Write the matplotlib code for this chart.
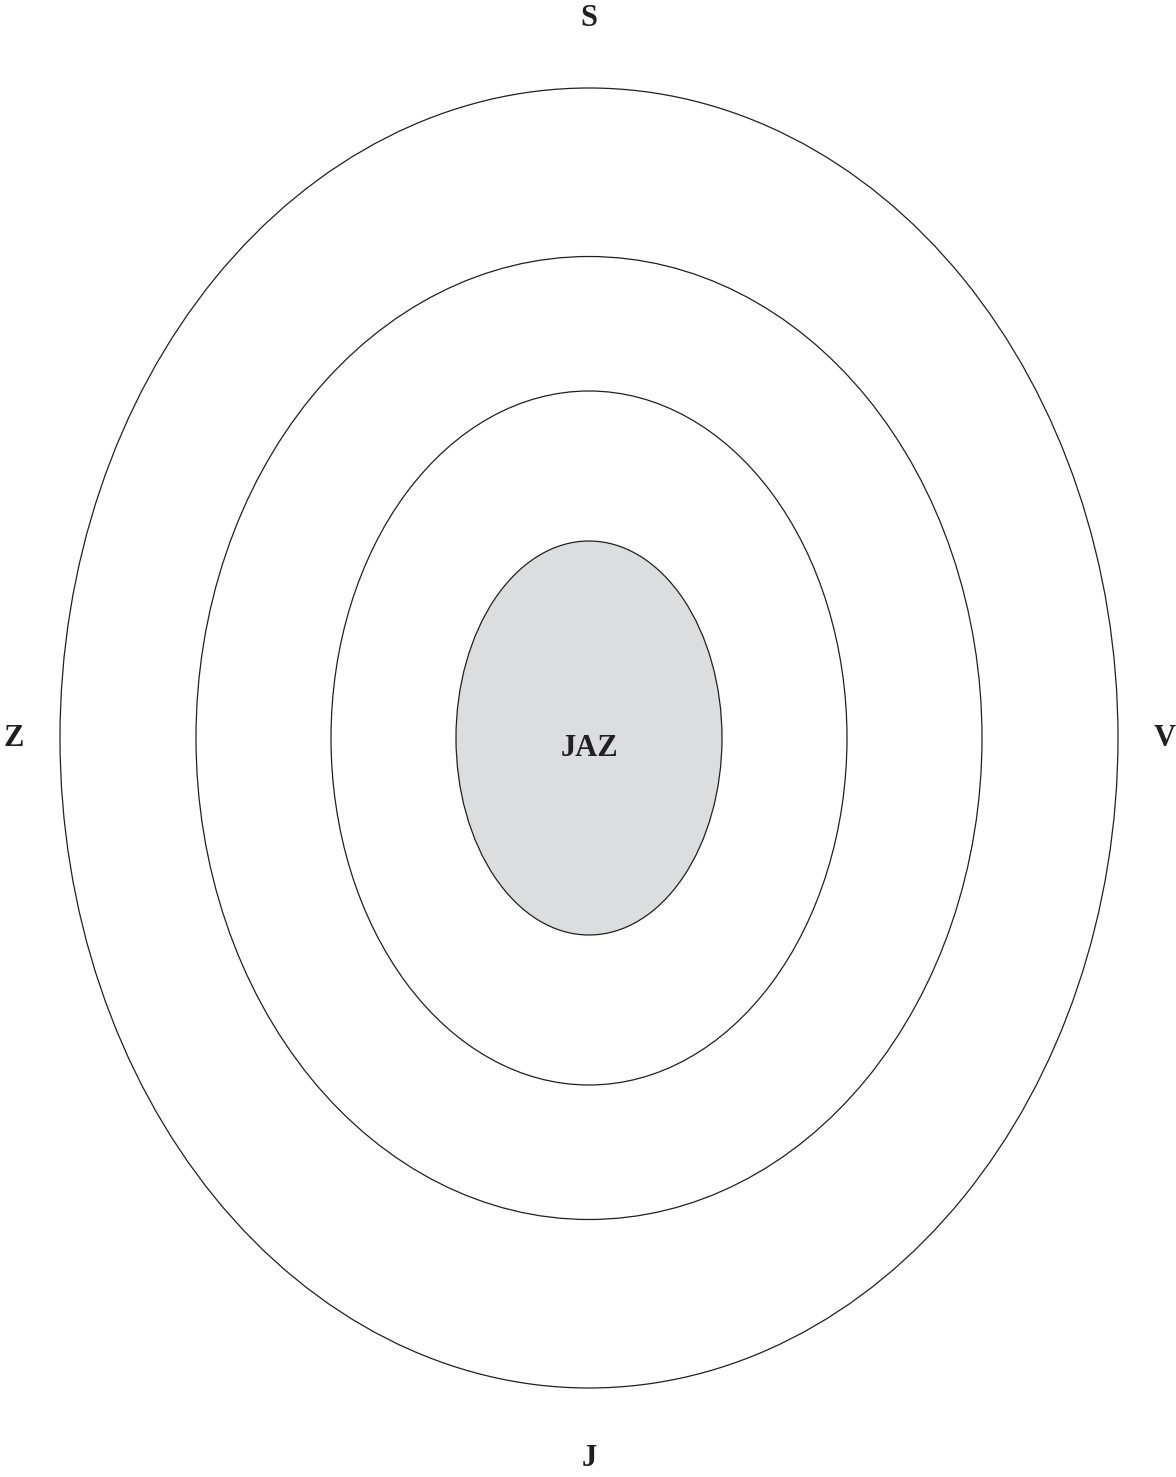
import matplotlib
matplotlib.use("Agg")
import matplotlib.pyplot as plt
from matplotlib.patches import Ellipse

# Data: concentric ring ellipses (width, height) in figure units
ring_widths = [1058, 786, 516, 266]
ring_heights = [1300, 963, 694, 394]
ring_fills = ["white", "white", "white", "#dcdddf"]
center = (589, 738)

# Direction labels
dir_labels = ["S", "Z", "V", "J"]
dir_x = [589, 14, 1165, 589]
dir_y = [18, 738, 738, 1459]
center_label = "JAZ"

fig = plt.figure(figsize=(11.76, 14.77), dpi=100)
ax = fig.add_axes([0, 0, 1, 1])
ax.set_xlim(0, 1176)
ax.set_ylim(1477, 0)
ax.axis("off")

for w, h, fc in zip(ring_widths, ring_heights, ring_fills):
    ax.add_patch(Ellipse(center, w, h, facecolor=fc, edgecolor="#231f20", lw=0.9))

font = dict(family="Liberation Serif", fontweight="bold", fontsize=22, color="#231f20",
            ha="center", va="center")
for lab, x, y in zip(dir_labels, dir_x, dir_y):
    ax.text(x, y, lab, **font)
ax.text(center[0], 748, center_label, **font)

fig.savefig("out.png", dpi=100, facecolor="white")
